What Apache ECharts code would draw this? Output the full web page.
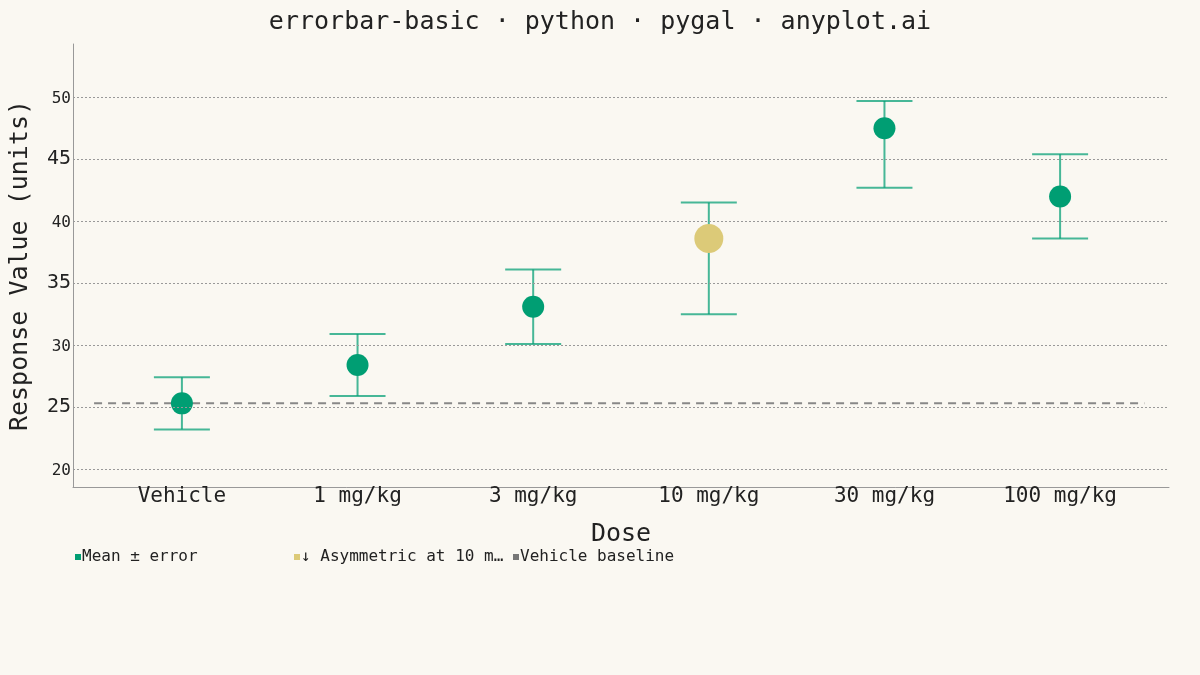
<!DOCTYPE html>
<html>
<head>
<meta charset="utf-8">
<script src="https://cdn.jsdelivr.net/npm/echarts@6/dist/echarts.min.js"></script>
<style>
  html, body { margin: 0; padding: 0; background: #FAF8F2; }
  #chart { width: 1200px; height: 675px; }
</style>
</head>
<body>
<div id="chart"></div>
<script>
// doses and measured response (mean with lower / upper error)
const doses = ['Vehicle', '1 mg/kg', '3 mg/kg', '10 mg/kg', '30 mg/kg', '100 mg/kg'];
const means = [25.3, 28.4, 33.1, 38.6, 47.5, 42.0];
const errLow = [2.1, 2.5, 3.0, 6.1, 4.8, 3.4];
const errHigh = [2.1, 2.5, 3.0, 2.9, 2.2, 3.4];
const yTicks = [20, 25, 30, 35, 40, 45, 50];
const legendNames = ['Mean ± error', '↓ Asymmetric at 10 mg/kg', 'Vehicle baseline'];
const highlight = 3;

const GREEN = '#009E73';
const YELLOW = '#DCCA78';
const FONT = '"DejaVu Sans Mono", monospace';

const chart = echarts.init(document.getElementById('chart'));

const greenPts = means.map((m, i) => i === highlight ? null : [i, m]);
const bars = means.map((m, i) => [i, m - errLow[i], m + errHigh[i]]);

// one legend block per entry so they sit on a fixed 219px pitch like pygal
const legends = legendNames.map((name, i) => ({
  left: 70 + i * 219,
  top: 544,
  icon: 'rect',
  itemWidth: 6,
  itemHeight: 6,
  data: [name],
  formatter: n => (n.length > 20 ? n.slice(0, 20) + '…' : n),
  textStyle: { fontFamily: FONT, fontSize: 16, color: '#222', padding: [0, 0, 0, -4] }
}));

const option = {
  backgroundColor: '#FAF8F2',
  animation: false,
  textStyle: { fontFamily: FONT, color: '#222' },
  title: {
    text: 'errorbar-basic · python · pygal · anyplot.ai',
    left: 'center',
    top: 5,
    textStyle: { fontFamily: FONT, fontSize: 25, fontWeight: 'normal', color: '#222' }
  },
  legend: legends,
  grid: { left: 72, right: 31, top: 44, bottom: 188 },
  xAxis: {
    type: 'value',
    min: -0.62,
    max: 5.62,
    name: 'Dose',
    nameLocation: 'middle',
    nameGap: 35,
    nameTextStyle: { fontFamily: FONT, fontSize: 25, color: '#222' },
    axisLine: { show: true, onZero: false, lineStyle: { color: '#999', width: 1 } },
    axisTick: { show: false },
    splitLine: { show: false },
    axisLabel: {
      customValues: doses.map((d, i) => i),
      formatter: v => doses[Math.round(v)],
      fontFamily: FONT, fontSize: 21, color: '#222', margin: -1
    }
  },
  yAxis: {
    type: 'value',
    min: 18.55,
    max: 54.3,
    name: 'Response Value (units)',
    nameLocation: 'middle',
    nameGap: 40,
    nameTextStyle: { fontFamily: FONT, fontSize: 25, color: '#222' },
    axisLine: { show: true, onZero: false, lineStyle: { color: '#999', width: 1 } },
    axisTick: { show: false },
    splitLine: { show: false },
    axisLabel: {
      customValues: yTicks,
      formatter: v => (v % 10 === 0 ? '{s|' + v + '}' : '{b|' + v + '}'),
      margin: 2,
      rich: {
        s: { fontFamily: FONT, fontSize: 16, color: '#222', padding: [4, 0, 0, 0] },
        b: { fontFamily: FONT, fontSize: 20, color: '#222' }
      }
    }
  },
  series: [
    {
      // dotted horizontal guides
      type: 'line',
      data: [],
      silent: true,
      markLine: {
        silent: true,
        symbol: 'none',
        label: { show: false },
        lineStyle: { color: '#999', type: [2, 2], width: 1 },
        data: yTicks.map(t => ({ yAxis: t }))
      }
    },
    {
      name: 'Vehicle baseline',
      type: 'line',
      data: [[-0.5, means[0]], [5.48, means[0]]],
      symbol: 'none',
      silent: true,
      itemStyle: { color: '#777' },
      lineStyle: { color: '#888', width: 2, type: [8, 6] },
      z: 2
    },
    {
      type: 'custom',
      data: bars,
      silent: true,
      z: 3,
      renderItem: (params, api) => {
        const top = api.coord([api.value(0), api.value(2)]);
        const bot = api.coord([api.value(0), api.value(1)]);
        const w = 28;
        const style = { stroke: GREEN, lineWidth: 2, opacity: 0.72 };
        return {
          type: 'group',
          children: [
            { type: 'line', shape: { x1: top[0], y1: top[1], x2: bot[0], y2: bot[1] }, style },
            { type: 'line', shape: { x1: top[0] - w, y1: top[1], x2: top[0] + w, y2: top[1] }, style },
            { type: 'line', shape: { x1: bot[0] - w, y1: bot[1], x2: bot[0] + w, y2: bot[1] }, style }
          ]
        };
      }
    },
    {
      name: legendNames[0],
      type: 'scatter',
      data: greenPts,
      symbol: 'circle',
      symbolSize: 22,
      itemStyle: { color: GREEN, opacity: 1 },
      z: 4
    },
    {
      name: legendNames[1],
      type: 'scatter',
      data: [[highlight, means[highlight]]],
      symbol: 'circle',
      symbolSize: 29,
      itemStyle: { color: YELLOW, opacity: 1 },
      z: 5
    }
  ]
};

chart.setOption(option);
</script>
</body>
</html>
